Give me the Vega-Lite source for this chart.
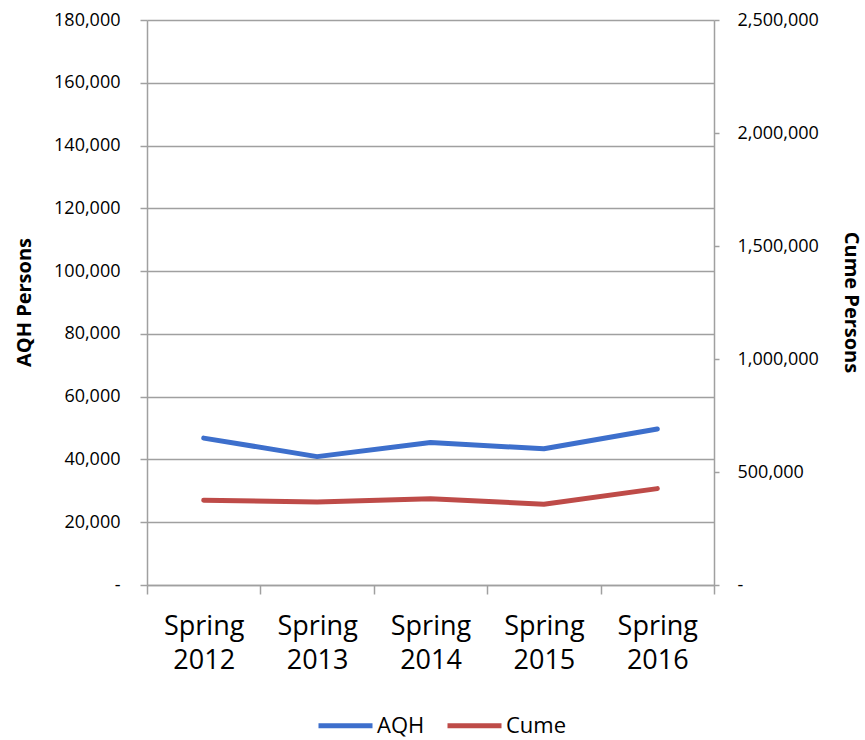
{
  "$schema": "https://vega.github.io/schema/vega-lite/v6.json",
  "autosize": {"type": "none"},
  "width": 567,
  "height": 565,
  "padding": {"left": 147, "top": 20, "right": 151, "bottom": 155},
  "background": "white",
  "config": {
    "view": {"stroke": null},
    "font": "Open Sans",
    "axis": {"labelColor": "#000000", "titleColor": "#000000", "domainColor": "#a0a0a0", "tickColor": "#a0a0a0", "gridColor": "#a0a0a0", "domainWidth": 1.5, "tickWidth": 1.5, "gridWidth": 1.5}
  },
  "data": {
    "values": [
      {"season": "Spring 2012", "series": "AQH", "value": 46800},
      {"season": "Spring 2013", "series": "AQH", "value": 40900},
      {"season": "Spring 2014", "series": "AQH", "value": 45400},
      {"season": "Spring 2015", "series": "AQH", "value": 43400},
      {"season": "Spring 2016", "series": "AQH", "value": 49700},
      {"season": "Spring 2012", "series": "Cume", "value": 375000},
      {"season": "Spring 2013", "series": "Cume", "value": 367500},
      {"season": "Spring 2014", "series": "Cume", "value": 382000},
      {"season": "Spring 2015", "series": "Cume", "value": 357500},
      {"season": "Spring 2016", "series": "Cume", "value": 426500}
    ]
  },
  "encoding": {
    "x": {
      "field": "season", "type": "nominal", "title": null,
      "scale": {"type": "band", "paddingInner": 0, "paddingOuter": 0},
      "axis": {"labelAngle": 0, "tickBand": "extent", "tickSize": 9, "labelPadding": 19, "labelFontSize": 27, "labelLineHeight": 34, "labelExpr": "split(datum.label, ' ')", "grid": false}
    },
    "color": {
      "field": "series", "type": "nominal",
      "scale": {"domain": ["AQH", "Cume"], "range": ["#3d6fcc", "#be4b48"]},
      "legend": {"title": null, "orient": "none", "direction": "horizontal", "legendX": 169, "legendY": 676, "symbolType": "stroke", "symbolSize": 2916, "symbolStrokeWidth": 5, "labelFontSize": 22, "labelOffset": 2, "columnPadding": 12, "labelColor": "#000000"}
    }
  },
  "layer": [
    {
      "transform": [{"filter": "datum.series === 'AQH'"}],
      "mark": {"type": "line", "strokeWidth": 5, "strokeCap": "round", "strokeJoin": "round"},
      "encoding": {
        "y": {
          "field": "value", "type": "quantitative", "title": "AQH Persons",
          "scale": {"domain": [0, 180000], "nice": false},
          "axis": {"values": [0, 20000, 40000, 60000, 80000, 100000, 120000, 140000, 160000, 180000], "grid": true, "tickSize": 7, "labelPadding": 20, "labelFontSize": 18, "labelExpr": "datum.value == 0 ? '-\u00a0\u00a0' : format(datum.value, ',')", "titleFontSize": 20, "titleFontWeight": "bold", "titleX": -123, "titleY": 282, "titleBaseline": "middle", "titleAngle": -90}
        }
      }
    },
    {
      "transform": [{"filter": "datum.series === 'Cume'"}],
      "mark": {"type": "line", "strokeWidth": 5, "strokeCap": "round", "strokeJoin": "round"},
      "encoding": {
        "y": {
          "field": "value", "type": "quantitative", "title": "Cume Persons",
          "scale": {"domain": [0, 2500000], "nice": false},
          "axis": {"orient": "right", "values": [0, 500000, 1000000, 1500000, 2000000, 2500000], "grid": false, "tickSize": 5, "labelPadding": 18, "labelFontSize": 18, "labelExpr": "datum.value == 0 ? '-' : format(datum.value, ',')", "titleFontSize": 20, "titleFontWeight": "bold", "titleX": 136, "titleY": 282, "titleBaseline": "middle", "titleAngle": 90}
        }
      }
    }
  ],
  "resolve": {"scale": {"y": "independent"}}
}
